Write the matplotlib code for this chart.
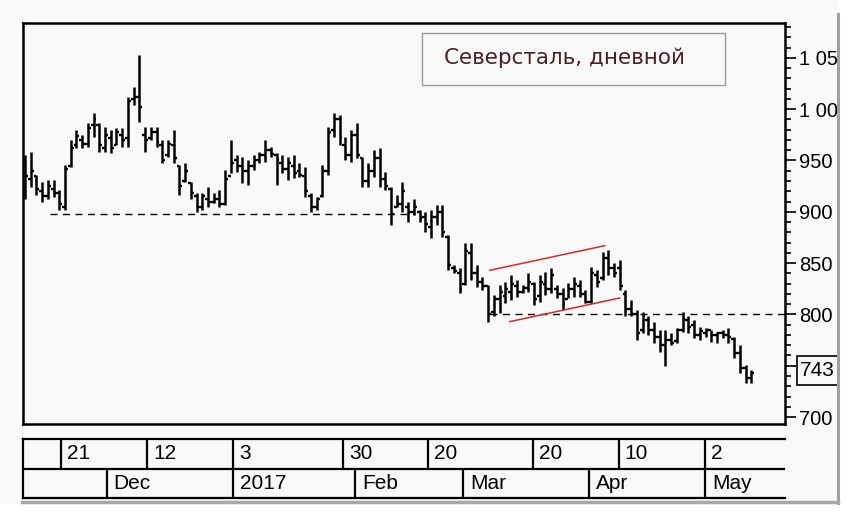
import matplotlib
matplotlib.use('Agg')
import matplotlib.pyplot as plt
from matplotlib.patches import Rectangle
from matplotlib.lines import Line2D
from matplotlib.ticker import MultipleLocator
import numpy as np

plt.rcParams['font.family'] = ['Liberation Sans', 'DejaVu Sans']

# ---------------- data (daily OHLC, Severstal) ----------------
opens = [950, 932, 935, 920, 915, 922, 918, 905, 945, 965,
         970, 966, 985, 985, 962, 972, 965, 975, 972, 1010,
         1012, 975, 972, 978, 965, 955, 965, 945, 930, 928,
         915, 905, 912, 910, 912, 908, 935, 950, 945, 940,
         945, 950, 955, 960, 955, 948, 942, 945, 940, 935,
         915, 905, 915, 940, 980, 990, 965, 955, 975, 952,
         930, 940, 952, 932, 922, 905, 908, 905, 900, 900,
         895, 885, 895, 900, 875, 845, 840, 830, 860, 840,
         832, 828, 802, 815, 818, 822, 828, 822, 826, 830,
         818, 830, 825, 825, 820, 815, 825, 828, 820, 812,
         838, 835, 855, 845, 845, 820, 805, 800, 785, 795,
         785, 778, 770, 775, 774, 785, 795, 790, 780, 782,
         785, 780, 782, 780, 776, 762, 748, 738]
highs = [955, 958, 936, 929, 931, 931, 921, 946, 970, 980,
         975, 987, 996, 987, 983, 980, 982, 982, 1012, 1022,
         1053, 983, 983, 983, 970, 970, 980, 946, 948, 929,
         918, 918, 924, 918, 921, 941, 970, 955, 953, 950,
         955, 958, 970, 963, 957, 955, 953, 955, 948, 944,
         918, 914, 946, 983, 996, 994, 973, 980, 987, 953,
         948, 960, 962, 939, 924, 916, 929, 910, 912, 902,
         900, 902, 907, 907, 877, 848, 845, 870, 870, 848,
         836, 829, 819, 829, 832, 838, 834, 829, 840, 832,
         838, 841, 845, 829, 826, 831, 836, 834, 824, 846,
         843, 861, 863, 850, 853, 824, 814, 804, 802, 798,
         793, 785, 785, 782, 787, 802, 798, 795, 788, 787,
         785, 783, 785, 787, 778, 770, 751, 746]
lows = [912, 924, 916, 910, 912, 914, 902, 902, 944, 962,
        962, 963, 973, 958, 958, 957, 965, 963, 963, 1004,
        988, 958, 970, 963, 948, 953, 948, 916, 929, 912,
        900, 902, 905, 909, 905, 907, 938, 939, 928, 926,
        941, 948, 949, 953, 926, 938, 931, 933, 934, 914,
        900, 902, 914, 936, 973, 965, 950, 949, 952, 924,
        924, 934, 924, 921, 887, 905, 900, 890, 897, 890,
        880, 874, 887, 875, 843, 840, 821, 829, 834, 827,
        824, 793, 798, 801, 811, 814, 817, 821, 822, 809,
        812, 819, 821, 816, 804, 816, 817, 817, 811, 811,
        827, 834, 838, 836, 824, 798, 798, 775, 782, 780,
        772, 763, 750, 770, 772, 783, 782, 777, 775, 778,
        773, 772, 777, 772, 758, 743, 733, 733]
closes = [935, 940, 922, 915, 925, 918, 908, 942, 962, 974,
          966, 982, 990, 965, 975, 962, 978, 970, 1008, 1012,
          1002, 970, 978, 968, 950, 966, 952, 925, 940, 918,
          905, 915, 910, 912, 908, 932, 948, 945, 940, 945,
          950, 955, 960, 956, 950, 942, 948, 938, 936, 920,
          905, 912, 940, 978, 990, 972, 955, 975, 955, 930,
          940, 952, 932, 925, 898, 908, 920, 900, 905, 894,
          888, 895, 900, 880, 848, 842, 825, 862, 840, 832,
          828, 800, 815, 822, 825, 830, 822, 826, 832, 815,
          832, 825, 838, 820, 810, 825, 830, 820, 812, 840,
          832, 855, 845, 840, 828, 805, 800, 782, 798, 785,
          778, 770, 775, 772, 785, 796, 788, 780, 784, 785,
          780, 782, 780, 778, 762, 748, 738, 743]

support_levels = [898, 800]
support_start = [4.4, 81.3]
support_end = [68.2, 133.0]
channel_upper_x = [81.3, 101.4]
channel_upper_y = [843, 867]
channel_lower_x = [84.8, 104.0]
channel_lower_y = [793, 816]

y_ticks = [700, 750, 800, 850, 900, 950, 1000, 1050]
y_labels = ['700', '', '800', '850', '900', '950', '1 000', '1 050']
day_labels = ['21', '12', '3', '30', '20', '20', '10', '2']
day_pos = [6.3, 21.3, 36.4, 55.6, 70.4, 88.8, 103.8, 118.9]
month_labels = ['Dec', '2017', 'Feb', 'Mar', 'Apr', 'May']
month_pos = [14.3, 36.4, 57.7, 76.6, 98.6, 118.9]
title = 'Северсталь, дневной'
last_price = 743

# ---------------- layout helpers ----------------
W, H = 862, 526
def fx(px):
    return px / W
def fy(py):
    return 1 - py / H

BG = '#f9f9f9'
fig = plt.figure(figsize=(W / 100, H / 100), dpi=100, facecolor=BG)

XMIN, XMAX = -0.35, 132.9
ax = fig.add_axes([fx(23), fy(424), (785 - 23) / W, (424 - 23) / H])
ax.set_facecolor(BG)
ax.set_xlim(XMIN, XMAX)
ax.set_ylim(693.2, 1084)

idx = np.arange(len(closes))
ax.vlines(idx, lows, highs, color='black', lw=1.8)
ax.hlines(opens, idx - 0.5, idx, color='black', lw=1.7)
ax.hlines(closes, idx, idx + 0.5, color='black', lw=1.7)

for lvl, s, e in zip(support_levels, support_start, support_end):
    ax.plot([s, e], [lvl, lvl], color='black', lw=1.0, ls=(0, (5, 4)))

ax.plot(channel_upper_x, channel_upper_y, color='#d42a2a', lw=1.1)
ax.plot(channel_lower_x, channel_lower_y, color='#d42a2a', lw=1.1)

for sp in ax.spines.values():
    sp.set_linewidth(1.8)
    sp.set_color('black')

ax.set_xticks([])
ax.yaxis.tick_right()
ax.set_yticks(y_ticks)
ax.set_yticklabels(y_labels)
ax.yaxis.set_minor_locator(MultipleLocator(10))
ax.tick_params(axis='y', which='major', length=8, width=1.2, direction='out',
               pad=2, labelsize=14.5, colors='black')
ax.tick_params(axis='y', which='minor', length=4.5, width=1.2, direction='out')

# title box
ax.add_patch(Rectangle((0.5236, 0.845), 0.9213 - 0.5236, 0.975 - 0.845,
                       transform=ax.transAxes, facecolor=BG,
                       edgecolor='#9a9a9a', lw=1.0, zorder=4))
ax.text(0.711, 0.9127, title, transform=ax.transAxes, ha='center', va='center',
        fontsize=15.5, color='#4a2020', family=['DejaVu Sans'], zorder=5)

# ---------------- date axis ----------------
dax = fig.add_axes([fx(23), fy(498), (785 - 23) / W, (498 - 439) / H])
dax.set_facecolor(BG)
dax.set_xlim(XMIN, XMAX)
dax.set_ylim(0, 2)
dax.set_xticks([])
dax.set_yticks([])
for k in ['left', 'top', 'bottom']:
    dax.spines[k].set_linewidth(1.6)
dax.spines['right'].set_visible(False)
dax.axhline(1, color='black', lw=1.6)
dax.vlines(day_pos, 1, 2, color='black', lw=1.6)
dax.vlines(month_pos, 0, 1, color='black', lw=1.6)
for p, t in zip(day_pos, day_labels):
    dax.annotate(t, xy=(p, 1.5), xytext=(4.5, 0), textcoords='offset points',
                 ha='left', va='center', fontsize=15)
for p, t in zip(month_pos, month_labels):
    dax.annotate(t, xy=(p, 0.5), xytext=(5, 0), textcoords='offset points',
                 ha='left', va='center', fontsize=15)

# ---------------- last price marker ----------------
fig.add_artist(Rectangle((fx(797), fy(385)), fx(60), (385 - 356) / H,
                         transform=fig.transFigure, facecolor=BG,
                         edgecolor='black', lw=1.2, zorder=5))
fig.text(fx(800), fy(371), str(last_price), ha='left', va='center',
         fontsize=15, zorder=6)

# clip right edge like the original window and add shadow
fig.add_artist(Rectangle((fx(838), 0), 1 - fx(838), 1, transform=fig.transFigure,
                         facecolor='white', edgecolor='none', zorder=10))
fig.add_artist(Rectangle((0, 0), 1, fy(504), transform=fig.transFigure,
                         facecolor='white', edgecolor='none', zorder=10))
fig.add_artist(Line2D([fx(838), fx(838)], [fy(503), fy(14)], transform=fig.transFigure,
                      color='#a0a0a0', lw=2.2, zorder=11))
fig.add_artist(Line2D([fx(22), fx(838)], [fy(502), fy(502)], transform=fig.transFigure,
                      color='#a8a8a8', lw=2.5, zorder=11))

fig.savefig('out.png', dpi=100, facecolor=fig.get_facecolor())
